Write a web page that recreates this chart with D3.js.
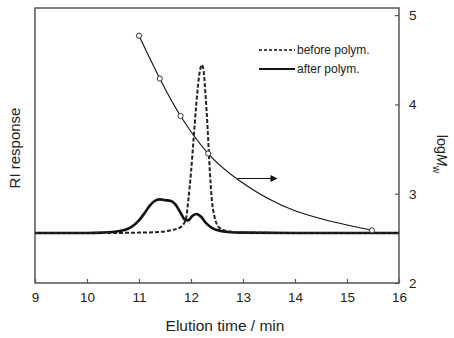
<!DOCTYPE html>
<html>
<head>
<meta charset="utf-8">
<script src="https://cdn.jsdelivr.net/npm/d3@7"></script>
<style>
  body { margin: 0; background: #fff; }
  text { font-family: "Liberation Sans", Arial, sans-serif; fill: #222; }
</style>
</head>
<body>
<div id="chart"></div>
<script>
// elution time (min) and RI response (arbitrary, baseline = 0)
const beforeTime = [9.0, 10.0, 10.5, 11.0, 11.4, 11.6, 11.8, 11.9, 11.95, 12.0, 12.05, 12.1, 12.15, 12.19, 12.21, 12.24, 12.28, 12.32, 12.36, 12.4, 12.45, 12.5, 12.6, 12.8, 13.0, 14.0, 15.0, 16.0];
const beforeRI   = [0, 0, 0, 0.002, 0.006, 0.015, 0.035, 0.08, 0.2, 0.36, 0.56, 0.76, 0.92, 0.99, 1.0, 0.97, 0.82, 0.62, 0.38, 0.2, 0.1, 0.05, 0.02, 0.006, 0.002, 0, 0, 0];
const afterTime  = [9.0, 10.0, 10.3, 10.5, 10.7, 10.85, 11.0, 11.1, 11.2, 11.3, 11.4, 11.5, 11.6, 11.7, 11.8, 11.88, 11.95, 12.02, 12.1, 12.18, 12.3, 12.4, 12.5, 12.7, 13.0, 14.0, 16.0];
const afterRI    = [0, 0, 0.002, 0.006, 0.016, 0.035, 0.075, 0.115, 0.16, 0.19, 0.2, 0.195, 0.192, 0.17, 0.12, 0.08, 0.075, 0.1, 0.113, 0.1, 0.055, 0.03, 0.017, 0.006, 0.002, 0, 0];

// calibration curve log Mw vs elution time
const calTime = [11.0, 11.4, 11.8, 12.33, 12.9, 13.5, 14.0, 14.5, 15.0, 15.48];
const calLogM = [4.77, 4.29, 3.87, 3.45, 3.16, 2.94, 2.81, 2.72, 2.65, 2.59];
const calPointTime = [11.0, 11.4, 11.8, 12.33, 15.48];
const calPointLogM = [4.77, 4.29, 3.87, 3.45, 2.59];

// arrow pointing to the right axis
const arrowTime = [12.9, 13.65];
const arrowLogM = [3.17, 3.17];

const xTicks = [9, 10, 11, 12, 13, 14, 15, 16];
const yRightTicks = [2, 3, 4, 5];
const legendNames = ["before polym.", "after polym."];

var margin = { top: 8, right: 55, bottom: 55, left: 35 },
    width = 454 - margin.left - margin.right,
    height = 338 - margin.top - margin.bottom;

var svg = d3.select("#chart")
    .append("svg")
    .attr("width", 454)
    .attr("height", 338)
    .append("g")
    .attr("transform", "translate(" + margin.left + "," + margin.top + ")");

var x = d3.scaleLinear().domain([9, 16]).range([0, width]);
var yRI = d3.scaleLinear().domain([-0.298, 1.339]).range([height, 0]);
var yM = d3.scaleLinear().domain([2, 5.08]).range([height, 0]);

// frame
svg.append("rect")
    .attr("width", width).attr("height", height)
    .attr("fill", "none").attr("stroke", "#555").attr("stroke-width", 1.5);

// bottom axis, ticks inward
var xAxis = svg.append("g")
    .attr("transform", "translate(0," + height + ")")
    .call(d3.axisBottom(x).tickValues(xTicks).tickFormat(d3.format("d"))
        .tickSizeInner(-4).tickSizeOuter(0).tickPadding(9));
xAxis.select(".domain").remove();
xAxis.selectAll("line").attr("stroke", "#555").attr("stroke-width", 1.2);
xAxis.selectAll("text").style("font-size", "13.5px").attr("fill", "#333");

// right axis, ticks inward
var yAxis = svg.append("g")
    .attr("transform", "translate(" + width + ",0)")
    .call(d3.axisRight(yM).tickValues(yRightTicks).tickFormat(d3.format("d"))
        .tickSizeInner(-4).tickSizeOuter(0).tickPadding(10));
yAxis.select(".domain").remove();
yAxis.selectAll("line").attr("stroke", "#555").attr("stroke-width", 1.2);
yAxis.selectAll("text").style("font-size", "13.5px").attr("fill", "#333");

// calibration curve
var calLine = d3.line()
    .x(function (d, i) { return x(calTime[i]); })
    .y(function (d) { return yM(d); })
    .curve(d3.curveNatural);
svg.append("path")
    .attr("d", calLine(calLogM))
    .attr("fill", "none").attr("stroke", "#111").attr("stroke-width", 1.1);

// RI traces
var riLine = function (times) {
    return d3.line()
        .x(function (d, i) { return x(times[i]); })
        .y(function (d) { return yRI(d); })
        .curve(d3.curveMonotoneX);
};
svg.append("path")
    .attr("d", riLine(afterTime)(afterRI))
    .attr("fill", "none").attr("stroke", "#111").attr("stroke-width", 2.6)
    .attr("stroke-linejoin", "round");
svg.append("path")
    .attr("d", riLine(beforeTime)(beforeRI))
    .attr("fill", "none").attr("stroke", "#222").attr("stroke-width", 2)
    .attr("stroke-dasharray", "4,2");

// calibration points
svg.selectAll(".cal")
    .data(calPointLogM)
    .enter()
    .append("circle")
    .attr("cx", function (d, i) { return x(calPointTime[i]); })
    .attr("cy", function (d) { return yM(d); })
    .attr("r", 2.6)
    .attr("fill", "#fff").attr("stroke", "#222").attr("stroke-width", 0.9);

// arrow
svg.append("defs").append("marker")
    .attr("id", "head")
    .attr("viewBox", "0 0 10 10")
    .attr("refX", 9).attr("refY", 5)
    .attr("markerWidth", 9).attr("markerHeight", 7)
    .attr("markerUnits", "userSpaceOnUse")
    .attr("orient", "auto")
    .append("path").attr("d", "M0,0L10,5L0,10Z").attr("fill", "#111");
svg.append("line")
    .attr("x1", x(arrowTime[0])).attr("y1", yM(arrowLogM[0]))
    .attr("x2", x(arrowTime[1])).attr("y2", yM(arrowLogM[1]))
    .attr("stroke", "#111").attr("stroke-width", 1.1)
    .attr("marker-end", "url(#head)");

// legend
var legend = svg.append("g").attr("transform", "translate(224,42)");
legendNames.forEach(function (name, i) {
    var row = legend.append("g").attr("transform", "translate(0," + (i * 19) + ")");
    row.append("line")
        .attr("x1", 0).attr("x2", 36)
        .attr("stroke", "#111")
        .attr("stroke-width", i === 0 ? 1.6 : 2.2)
        .attr("stroke-dasharray", i === 0 ? "3,2" : null);
    row.append("text")
        .attr("x", 38).attr("y", 4)
        .style("font-size", "12px")
        .text(name);
});

// axis titles
svg.append("text")
    .attr("x", width / 2 + 8).attr("y", height + 48)
    .attr("text-anchor", "middle")
    .style("font-size", "15.5px")
    .text("Elution time / min");

svg.append("text")
    .attr("transform", "translate(-15," + 140 + ") rotate(-90)")
    .attr("text-anchor", "middle")
    .style("font-size", "15px")
    .text("RI response");

var mLabel = svg.append("text")
    .attr("transform", "translate(" + (width + 38) + "," + 146 + ") rotate(90)")
    .attr("text-anchor", "middle")
    .style("font-size", "14.5px");
mLabel.append("tspan").text("log");
mLabel.append("tspan").style("font-style", "italic").text("M");
mLabel.append("tspan").attr("dy", 4).style("font-size", "10px").text("w");
</script>
</body>
</html>
